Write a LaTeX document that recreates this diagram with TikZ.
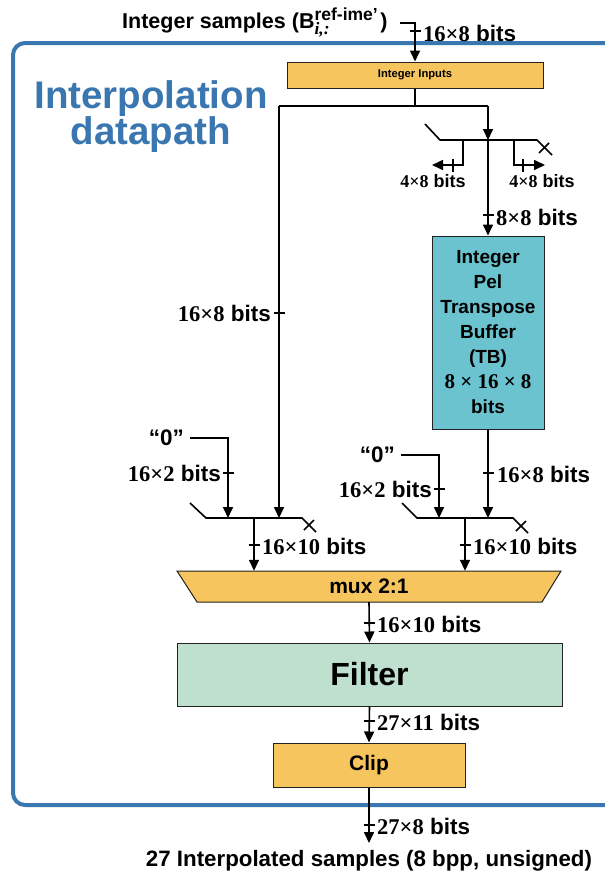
\documentclass[tikz,border=0pt]{standalone}
\usepackage{fontspec}
\setmainfont{Liberation Sans}
\newfontfamily\tms{Liberation Serif}
\usetikzlibrary{arrows.meta,calc}
\definecolor{frameblue}{HTML}{3A77B0}
\definecolor{boxorange}{HTML}{F6C55E}
\definecolor{tbteal}{HTML}{6BC3CF}
\definecolor{filtgreen}{HTML}{BFE0CE}
\definecolor{edgegray}{HTML}{222222}

% bit-width label: serif numbers, sans "bits"
\newcommand{\bitw}[1]{{\tms\bfseries #1} bits}
% short tick marks across a bus
\newcommand{\htick}[1]{\draw[tickmark] ($(#1)+(-5.5,0)$) -- ($(#1)+(5.5,0)$);}
\newcommand{\vtick}[1]{\draw[tickmark] ($(#1)+(0,-6.5)$) -- ($(#1)+(0,6.5)$);}

\begin{document}
\begin{tikzpicture}[x=1pt,y=-1pt,
  wire/.style={line width=1.6pt, black},
  arr/.style={wire, -{Triangle[length=11pt,width=10pt]}},
  tickmark/.style={line width=1.6pt, black},
  blk/.style={draw=edgegray, line width=1pt, font=\bfseries, inner sep=0pt, align=center},
  lbl/.style={font=\fontsize{22.5}{22.5}\selectfont\bfseries, inner sep=0pt},
  smalllbl/.style={font=\fontsize{18}{18}\selectfont\bfseries, inner sep=0pt},
]
\clip (0,0) rectangle (605,876);

% datapath frame
\draw[frameblue, line width=4pt, rounded corners=12pt] (13,43) rectangle (660,805);
\node[font=\fontsize{38.5}{36}\selectfont\bfseries, text=frameblue, align=center, inner sep=0pt]
  (dp) at (151,117) {Interpolation\\datapath};

% input / output texts
\node[anchor=base west, font=\fontsize{21.5}{21.5}\selectfont\bfseries, inner sep=0pt] (title) at (122,28)
  {Integer samples (B$^{\mbox{\fontsize{17.5}{17.5}\selectfont\bfseries ref-ime’}}_{\mbox{\fontsize{17.5}{17.5}\selectfont\tms\bfseries\itshape i,:}}$\kern2pt)};
\node[font=\fontsize{22.3}{22.3}\selectfont\bfseries, inner sep=0pt] (outtxt) at (369,861)
  {27 Interpolated samples (8 bpp, unsigned)};

% blocks
\node[blk, fill=boxorange, minimum width=256pt, minimum height=26pt,
  font=\fontsize{11.2}{12}\selectfont\bfseries] (ii) at (415,75) {Integer Inputs};
\node[blk, fill=tbteal, minimum width=112pt, minimum height=193pt,
  font=\fontsize{19}{25}\selectfont\bfseries] (tb) at (488,332.5)
  {Integer\\Pel\\Transpose\\Buffer\\(TB)\\{\tms\fontsize{21}{25}\selectfont 8 × 16 × 8}\\bits};
\filldraw[fill=boxorange, draw=edgegray, line width=1pt] (177,571) -- (561,571) -- (542,602) -- (197,602) -- cycle;
\node[inner sep=0pt, minimum width=384pt, minimum height=31pt,
  font=\fontsize{21}{21}\selectfont\bfseries] (mux) at (369,586.5) {mux 2:1};
\node[blk, fill=filtgreen, minimum width=385pt, minimum height=63pt,
  font=\fontsize{32}{32}\selectfont\bfseries] (filt) at (369.5,674.5) {Filter};
\node[blk, fill=boxorange, minimum width=192pt, minimum height=44pt,
  font=\fontsize{21}{21}\selectfont\bfseries] (clipb) at (369,765) {Clip};

% junction points
\coordinate (tin) at (400,23);
\coordinate (tcorner) at (415,23);
\coordinate (jM) at (415,106);
\coordinate (jL) at (279,106);
\coordinate (jR) at (488,106);
\coordinate (dmIn) at (488,140);
\coordinate (selLin) at (279,518);
\coordinate (selRin) at (488,518);
\coordinate (selLout) at (254,518);
\coordinate (selRout) at (465,518);
\coordinate (outTip) at (369,843);

% input to Integer Inputs
\draw[arr] (tin) -- (tcorner) -- (ii.north);
\htick{415,31}
\node[lbl, anchor=west] (l1) at (423,33) {\bitw{16×8}};

% split after Integer Inputs
\draw[wire] (ii.south) -- (jM);
\draw[wire] (jL) -- (jR);
\draw[arr] (jR) -- (dmIn);

% demux before transpose buffer
\draw[wire] (425,124) -- (440,140) -- (537,140) -- (552,155);
\draw[wire] (539,153) -- (549,143);
\draw[arr] (463,140) -- (463,165) -- (432,165);
\vtick{453,165}
\node[smalllbl] (l2) at (433,181) {\bitw{4×8}};
\draw[arr] (514,140) -- (514,165) -- (545,165);
\vtick{523,165}
\node[smalllbl] (l3) at (542,181) {\bitw{4×8}};

\draw[arr] (dmIn) -- (tb.north);
\htick{488,215}
\node[lbl, anchor=west] (l4) at (496,217) {\bitw{8×8}};

\draw[arr] (tb.south) -- (selRin);
\htick{488,473}
\node[lbl, anchor=west] (l5) at (497,474) {\bitw{16×8}};

% left direct path
\draw[arr] (jL) -- (selLin);
\htick{279,313}
\node[lbl, anchor=east] (l6) at (271,313) {\bitw{16×8}};

% left selector
\node[lbl, anchor=east] (z1) at (184,438) {“0”};
\draw[arr] ([xshift=6pt]z1.east) -- (228,438) -- (228,518);
\htick{228,473}
\node[lbl, anchor=east] (l7) at (221,473) {\bitw{16×2}};
\draw[wire] (190,503) -- (206,518) -- (302,518) -- (316,532);
\draw[wire] (304,530) -- (314,520);
\draw[arr] (selLout) -- (selLout |- mux.north);
\htick{254,545}
\node[lbl, anchor=west] (l8) at (262,546) {\bitw{16×10}};

% right selector
\node[lbl, anchor=east] (z2) at (395,455) {“0”};
\draw[arr] ([xshift=6pt]z2.east) -- (439,455) -- (439,518);
\htick{439,489}
\node[lbl, anchor=east] (l9) at (432,489) {\bitw{16×2}};
\draw[wire] (402,503) -- (417,518) -- (513,518) -- (528,533);
\draw[wire] (516,531) -- (526,521);
\draw[arr] (selRout) -- (selRout |- mux.north);
\htick{465,545}
\node[lbl, anchor=west] (l10) at (473,546) {\bitw{16×10}};

% mux -> filter -> clip -> output
\draw[arr] (mux.south) -- (filt.north);
\htick{369,623}
\node[lbl, anchor=west] (l11) at (377,624) {\bitw{16×10}};
\draw[arr] (filt.south) -- (clipb.north);
\htick{369,721}
\node[lbl, anchor=west] (l12) at (377,722) {\bitw{27×11}};
\draw[arr] (clipb.south) -- (outTip);
\htick{369,825}
\node[lbl, anchor=west] (l13) at (377,826) {\bitw{27×8}};
\end{tikzpicture}
\end{document}
